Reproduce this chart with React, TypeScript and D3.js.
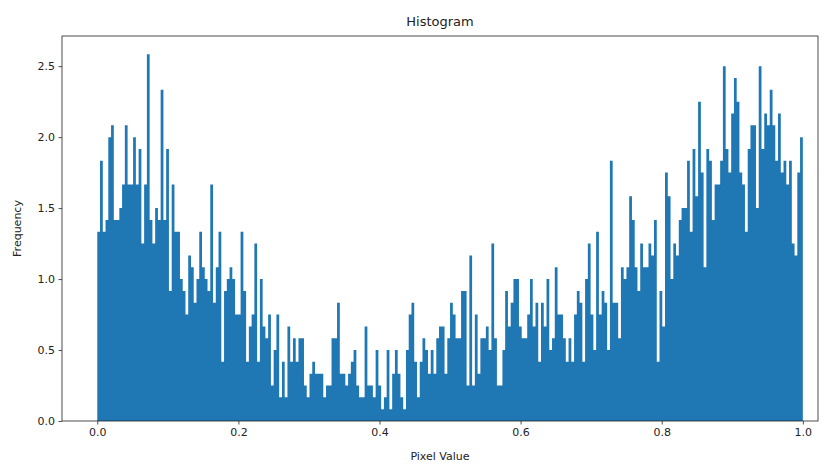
import React, { useRef, useEffect } from "react";
import { select, scaleLinear, axisBottom, axisLeft, area, curveStepAfter } from "d3";

// counts per bin (256 bins over 0..1)
const binCounts = [
  16, 22, 16, 17, 24, 25, 17, 17, 18, 20, 25, 20, 20, 24, 20, 23, 15, 20, 31, 17, 15,
  18, 17, 28, 17, 23, 11, 20, 16, 16, 12, 11, 9, 14, 13, 10, 12, 16, 13, 12, 11, 20, 10,
  13, 16, 5, 11, 12, 13, 12, 9, 9, 16, 11, 5, 8, 9, 15, 5, 12, 8, 7, 9, 3, 6,
  9, 2, 5, 2, 8, 5, 7, 5, 7, 7, 3, 2, 4, 5, 4, 4, 4, 2, 3, 3, 7,
  7, 10, 4, 4, 3, 4, 5, 6, 3, 2, 2, 8, 3, 3, 2, 6, 3, 1, 2, 6, 1, 4,
  6, 4, 2, 1, 6, 9, 10, 5, 2, 5, 7, 6, 4, 6, 4, 7, 8, 8, 4, 7, 10, 9,
  7, 7, 11, 11, 3, 14, 3, 9, 4, 7, 7, 8, 6, 15, 7, 3, 3, 6, 11, 8, 10, 12,
  12, 8, 7, 7, 9, 12, 8, 10, 5, 10, 8, 12, 6, 7, 13, 9, 9, 7, 5, 7, 5, 9,
  11, 10, 5, 12, 15, 9, 6, 16, 9, 11, 10, 6, 22, 10, 10, 7, 13, 12, 13, 19, 17,
  13, 11, 15, 13, 13, 15, 14, 17, 5, 11, 8, 21, 19, 12, 15, 14, 17, 18, 18, 22, 16, 23,
  19, 27, 21, 13, 23, 22, 17, 20, 20, 22, 30, 23, 21, 26, 29, 27, 21, 20, 16, 23, 25, 25,
  18, 30, 23, 26, 25, 28, 25, 22, 26, 21, 22, 20, 22, 15, 14, 21, 24,
];
const totalPixels = 3072;
const xTicks = [0, 0.2, 0.4, 0.6, 0.8, 1.0];
const yTicks = [0, 0.5, 1.0, 1.5, 2.0, 2.5];

const W = 829;
const H = 464;
const margin = { top: 36, right: 11, bottom: 43, left: 62 };

const Histogram = () => {
  const ref = useRef(null);

  useEffect(() => {
    const svg = select(ref.current);
    svg.selectAll("*").remove();

    const nBins = binCounts.length;
    const binWidth = 1 / nBins;
    // matplotlib density=True: count / (N * width)
    const density = binCounts.map((c) => c / (totalPixels * binWidth));
    const maxD = Math.max(...density);

    const innerWidth = W - margin.left - margin.right;
    const innerHeight = H - margin.top - margin.bottom;

    const xScale = scaleLinear().domain([-0.05, 1.0215]).range([0, innerWidth]);
    const yScale = scaleLinear().domain([0, maxD * 1.05]).range([innerHeight, 0]);

    const g = svg
      .append("g")
      .attr("transform", `translate(${margin.left}, ${margin.top})`);

    // bars as one stepped shape so adjacent bins don't leave seams
    const steps = density.map((d, i) => [i * binWidth, d]);
    steps.push([1, density[nBins - 1]]);
    const barArea = area()
      .curve(curveStepAfter)
      .x((d) => xScale(d[0]))
      .y0(yScale(0))
      .y1((d) => yScale(d[1]));

    g.append("path")
      .datum(steps)
      .attr("fill", "#1f77b4")
      .attr("d", barArea);

    const font = "DejaVu Sans, sans-serif";

    const xAxis = axisBottom(xScale)
      .tickValues(xTicks)
      .tickFormat((d) => Number(d).toFixed(1))
      .tickSize(3.5)
      .tickPadding(3.5);
    const yAxis = axisLeft(yScale)
      .tickValues(yTicks)
      .tickFormat((d) => Number(d).toFixed(1))
      .tickSize(3.5)
      .tickPadding(3.5);

    const gx = g
      .append("g")
      .attr("transform", `translate(0, ${innerHeight})`)
      .call(xAxis);
    const gy = g.append("g").call(yAxis);

    [gx, gy].forEach((ax) => {
      ax.select(".domain").remove();
      ax.selectAll("text")
        .style("font-family", font)
        .style("font-size", "11px")
        .attr("fill", "#222");
      ax.selectAll("line").attr("stroke", "#222").attr("stroke-width", 0.8);
    });

    // frame
    g.append("rect")
      .attr("x", 0)
      .attr("y", 0)
      .attr("width", innerWidth)
      .attr("height", innerHeight)
      .attr("fill", "none")
      .attr("stroke", "#222")
      .attr("stroke-width", 0.8);

    // Title
    g.append("text")
      .style("font-family", font)
      .style("font-size", "13px")
      .attr("fill", "#222")
      .attr("x", innerWidth / 2)
      .attr("y", -10)
      .attr("text-anchor", "middle")
      .text("Histogram");

    // X-axis label
    g.append("text")
      .style("font-family", font)
      .style("font-size", "11px")
      .attr("fill", "#222")
      .attr("x", innerWidth / 2)
      .attr("y", innerHeight + 39)
      .attr("text-anchor", "middle")
      .text("Pixel Value");

    // Y-axis label
    g.append("text")
      .style("font-family", font)
      .style("font-size", "11px")
      .attr("fill", "#222")
      .attr("transform", "rotate(-90)")
      .attr("x", -innerHeight / 2)
      .attr("y", -41)
      .attr("text-anchor", "middle")
      .text("Frequency");
  }, []);

  return (
    <svg
      ref={ref}
      width={W}
      height={H}
      style={{ position: "absolute", left: 0, top: 0, background: "#fff" }}
    />
  );
};

export default function App() {
  return <Histogram />;
}
